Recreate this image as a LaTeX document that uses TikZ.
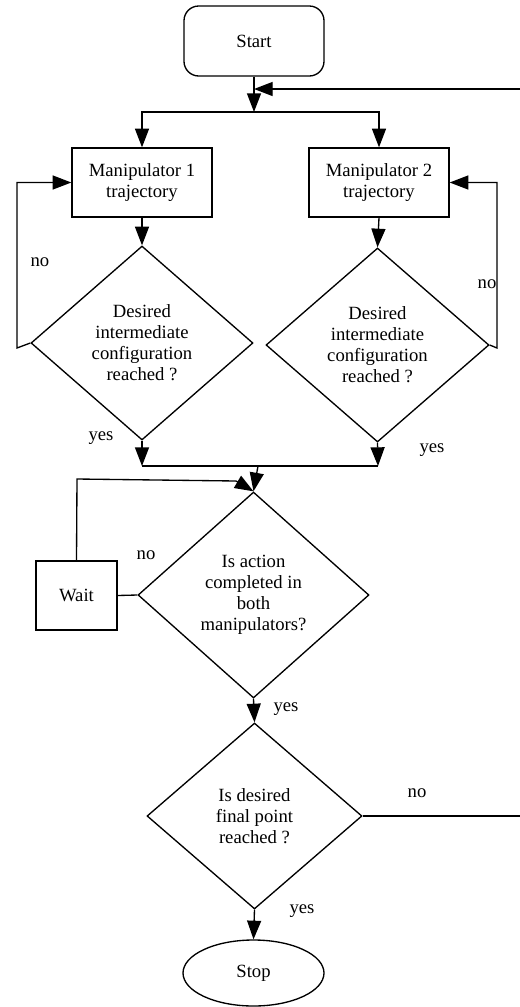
\documentclass[tikz,border=0pt]{standalone}
\usepackage{fontspec}
\setmainfont{Liberation Serif}
\usetikzlibrary{shapes.geometric,arrows.meta}
\begin{document}
\begin{tikzpicture}[x=0.75pt,y=-0.75pt,line width=1pt,
  every node/.style={font=\fontsize{14}{15.75}\selectfont},
  box/.style={draw,rectangle,minimum width=105pt,minimum height=51.75pt,inner sep=0pt,align=center},
  term/.style={draw,rectangle,rounded corners=11pt,minimum width=105pt,minimum height=52.5pt,inner sep=0pt},
  dec/.style={draw,diamond,inner sep=0pt,align=center},
  lbl/.style={inner sep=0pt},
  arr/.style={-{Triangle[length=14pt,width=10.5pt]}}]
\useasboundingbox (0,0) rectangle (520,1007);
\clip (0,0) rectangle (520,1007);

% nodes
\node[term] (start) at (254,41) {Start};
\node[box] (m1) at (142,182.5) {Manipulator 1\\trajectory};
\node[box] (m2) at (379,182.5) {Manipulator 2\\trajectory};
\node[dec,minimum width=166.5pt,minimum height=145.5pt] (d1) at (142,343) {Desired\\intermediate\\configuration\\reached ?};
\node[dec,minimum width=167.25pt,minimum height=145.5pt] (d2) at (377.5,345) {Desired\\intermediate\\configuration\\reached ?};
\node[dec,minimum width=173.25pt,minimum height=154.5pt] (d3) at (253.5,595) {Is action\\completed in\\both\\manipulators?};
\node[box,minimum width=60.75pt] (wait) at (76.5,595.5) {Wait};
\node[dec,minimum width=161.25pt,minimum height=139.5pt] (d4) at (254.5,816) {Is desired\\final point\\reached ?};
\node[draw,ellipse,minimum width=105.75pt,minimum height=49.5pt,inner sep=0pt] (stop) at (253.5,973) {Stop};

% junction coordinates
\coordinate (j0) at (254,89);
\coordinate (j1) at (254,112);
\coordinate (l1) at (17,348);
\coordinate (r1) at (497,348);
\coordinate (ja) at (142,466);
\coordinate (jb) at (378,466);
\coordinate (jm) at (258,466);
\coordinate (wt) at (77,479);
\coordinate (wt2) at (236,481);
\coordinate (far) at (535,816);

% connectors
\draw[arr] (start.south) -- (j1);
\draw[arr] (j1) -| (m1.north);
\draw[arr] (j1) -| (m2.north);
\draw[arr] (m1.south) -- (d1.north);
\draw[arr] (m2.south) -- (d2.north);
\draw[arr] (d1.west) -- (l1) |- (m1.west);
\draw[arr] (d2.east) -- (r1) |- (m2.east);
\draw[arr] (d1.south) -- (ja);
\draw[arr] (d2.south) -- (jb);
\draw (ja) -- (jb);
\draw[arr] (jm) -- (d3.north);
\draw (d3.west) -- (wait.east);
\draw[arr] (wait.north) -- (wt) -- (wt2) -- (d3.north);
\draw[arr] (d3.south) -- (d4.north);
\draw[arr] (d4.south) -- (stop.north);
\draw[arr] (d4.east) -- (far) |- (j0);

% labels
\node[lbl] (n1) at (40,262) {no};
\node[lbl] (n2) at (487,284) {no};
\node[lbl] (y1) at (101,438) {yes};
\node[lbl] (y2) at (432,450) {yes};
\node[lbl] (n3) at (146,555) {no};
\node[lbl] (y3) at (286,709) {yes};
\node[lbl] (n4) at (417,793) {no};
\node[lbl] (y4) at (302,911) {yes};
\end{tikzpicture}
\end{document}
